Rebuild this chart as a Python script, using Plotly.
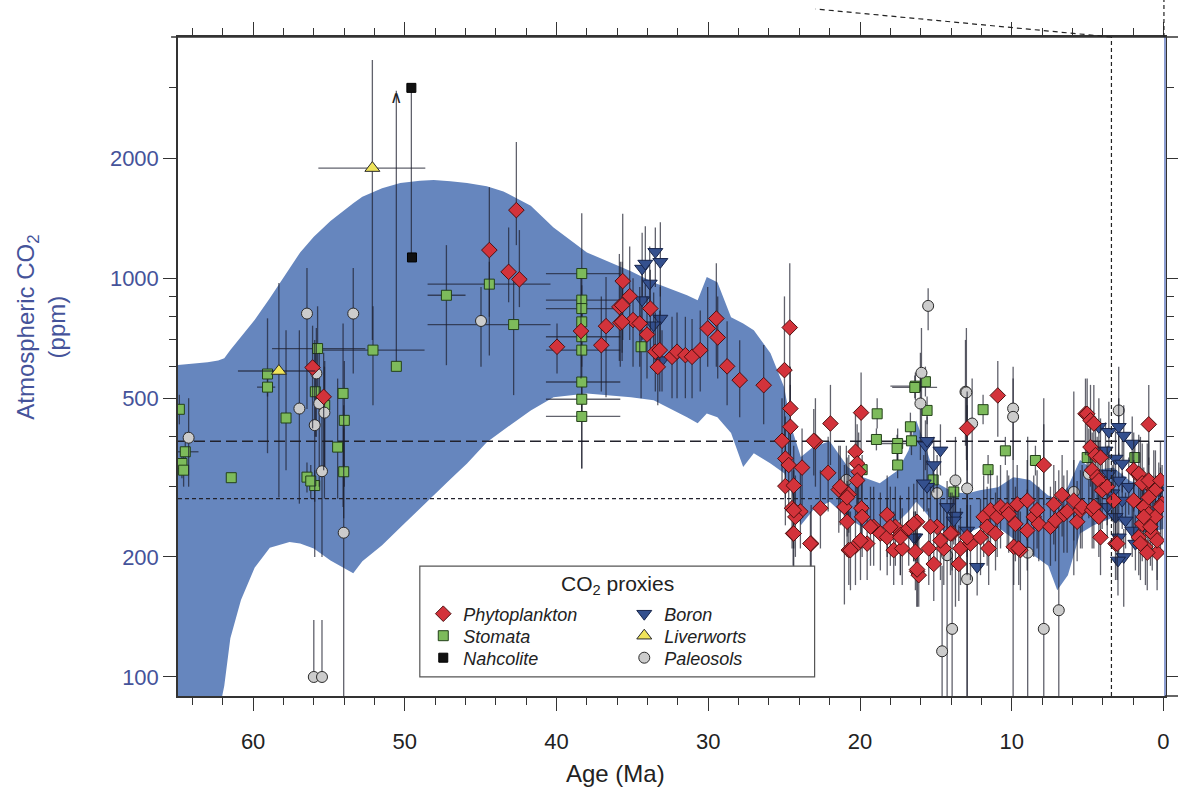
import math
import plotly.graph_objects as go

# ---------------- axis ranges / reference values ----------------
X_RANGE = [64.95, -0.1]          # Age (Ma), reversed
Y_RANGE_PPM = [89.6, 4024]       # log axis
MODERN_CO2 = 390
PREIND_CO2 = 280
ZOOM_AGE = 3.43                  # vertical dashed marker
X_TICKS = [60, 50, 40, 30, 20, 10, 0]
Y_TICKS = [100, 200, 500, 1000, 2000]
Y_MINOR = [300, 400, 600, 700, 800, 900, 3000]

# ---------------- envelope (blue band) ----------------
BAND_AGE = [65.0, 63.0, 62.3, 61.9, 61.5, 60.8, 59.9, 58.9, 57.6, 56.9, 56.0, 54.9,
            53.4, 52.8, 51.5, 50.3, 49.0, 48.1, 47.0, 45.9, 44.6, 43.5, 41.7, 40.2,
            38.0, 35.1, 33.6, 31.4, 30.7, 30.1, 29.4, 28.5, 27.7, 27.0, 25.9, 25.0,
            24.5, 23.9, 23.1, 22.0, 20.8, 19.8, 18.7, 17.5, 16.8, 16.3, 15.8, 14.9,
            13.8, 12.9, 12.1, 10.9, 9.9, 8.8, 7.6, 7.0, 6.3, 5.5, 4.6, 3.3, 2.2, 1.0, 0.0]
BAND_UPPER = [605, 615, 622, 630, 660, 710, 785, 890, 1060, 1160, 1270, 1390,
              1540, 1600, 1680, 1731, 1755, 1762, 1750, 1731, 1700, 1650, 1520, 1340,
              1160, 1040, 975, 906, 880, 1006, 977, 798, 770, 740, 648, 533,
              420, 356, 377, 390, 336, 317, 306, 330, 370, 440, 390, 306,
              290, 289, 294, 299, 317, 312, 285, 280, 300, 350, 330, 335, 310, 300, 300]
BAND_LOWER = [80, 80, 80, 95, 125, 156, 188, 211, 218, 216, 210, 196,
              182, 195, 214, 237, 265, 286, 313, 343, 388, 416, 466, 503,
              514, 503, 494, 448, 433, 458, 448, 409, 336, 364, 343, 324,
              290, 240, 262, 275, 250, 237, 233, 245, 260, 275, 262, 237,
              225, 230, 237, 237, 222, 205, 190, 165, 180, 229, 240, 251, 235, 230, 235]

# ---------------- proxies: (age, co2, co2_low, co2_high) ----------------
PHYTO = [
    (56.08, 597, 420, 760), (55.35, 504, 330, 650), (44.43, 1176, 640, 1690),
    (43.16, 1037, 870, 1340), (42.45, 993, 846, 1320), (42.65, 1481, 1210, 2195),
    (39.97, 673, 577, 770), (38.39, 737, 560, 1000), (36.74, 758, 503, 1006),
    (37.05, 679, 520, 900), (35.80, 773, 600, 1100), (35.86, 847, 620, 1150),
    (35.64, 983, 700, 1450), (35.18, 901, 700, 1200), (35.68, 855, 650, 1100),
    (34.96, 785, 600, 1000), (35.68, 777, 620, 950), (34.52, 770, 600, 950),
    (34.04, 722, 560, 900), (33.82, 839, 650, 1050), (33.49, 654, 520, 820),
    (33.20, 660, 520, 830), (33.33, 599, 480, 760), (32.39, 635, 500, 800),
    (32.06, 654, 500, 820), (31.51, 641, 500, 800), (31.07, 635, 500, 790),
    (30.53, 660, 520, 830), (29.47, 792, 600, 1090), (30.04, 748, 600, 950),
    (29.38, 710, 560, 900), (28.76, 601, 480, 780), (27.93, 555, 448, 699),
    (26.35, 539, 430, 680), (24.63, 752, 450, 1090), (24.98, 588, 400, 900),
    (24.59, 471, 350, 600), (24.59, 424, 330, 540), (25.14, 391, 300, 500),
    (24.92, 353, 280, 450), (24.70, 340, 270, 430), (23.82, 335, 270, 420),
    (24.92, 301, 240, 380), (24.37, 302, 240, 380), (24.48, 265, 210, 330),
    (23.93, 260, 210, 330), (24.26, 252, 200, 320), (24.41, 229, 190, 290),
    (23.22, 216, 180, 270), (22.94, 389, 300, 500), (22.61, 265, 210, 330),
    (21.95, 432, 340, 540), (22.10, 325, 260, 400), (23.05, 391, 320, 470),
    (23.27, 216, 180, 260), (19.93, 460, 370, 580), (20.30, 367, 290, 460),
    (20.19, 343, 270, 430), (20.09, 327, 260, 410), (20.19, 311, 250, 390),
    (21.40, 295, 230, 380), (20.74, 287, 230, 360), (21.03, 267, 152, 340),
    (20.85, 245, 200, 310), (19.91, 265, 210, 340), (19.86, 252, 200, 320),
    (20.74, 208, 170, 260), (20.30, 213, 170, 270), (19.53, 216, 175, 270),
    (19.10, 238, 190, 300), (18.66, 229, 185, 290), (18.21, 255, 200, 320),
    (18.21, 224, 180, 280), (17.67, 238, 190, 300), (17.78, 208, 170, 260),
    (17.22, 210, 170, 265), (17.34, 227, 180, 285), (16.79, 236, 190, 300),
    (16.24, 245, 195, 310), (16.35, 206, 165, 260), (16.24, 184, 150, 230),
    (16.13, 180, 150, 225), (15.47, 210, 170, 265), (15.14, 192, 155, 240),
    (14.92, 238, 190, 300), (14.48, 210, 170, 265), (13.93, 229, 185, 290),
    (13.49, 192, 155, 240), (13.38, 210, 170, 265), (12.72, 216, 175, 270),
    (12.94, 420, 330, 520), (10.92, 508, 400, 620), (15.36, 238, 190, 300),
    (14.70, 220, 175, 280), (14.04, 229, 180, 290), (12.94, 224, 180, 285),
    (12.06, 224, 180, 280), (11.85, 252, 200, 320), (11.62, 238, 190, 300),
    (11.40, 262, 210, 330), (10.96, 252, 200, 320), (10.74, 267, 210, 340),
    (10.30, 262, 210, 330), (9.64, 271, 215, 340), (8.98, 277, 220, 350),
    (9.87, 212, 170, 270), (9.43, 208, 165, 260), (10.20, 256, 205, 320),
    (9.76, 242, 195, 300), (11.07, 229, 185, 290), (11.52, 210, 170, 265),
    (9.54, 210, 170, 265), (8.55, 252, 200, 320), (8.33, 262, 210, 330),
    (8.22, 242, 195, 300), (8.98, 233, 185, 295), (7.89, 340, 270, 430),
    (7.45, 238, 190, 300), (7.23, 271, 215, 340), (7.12, 247, 195, 310),
    (6.68, 286, 225, 360), (6.57, 256, 205, 320), (6.35, 260, 205, 330),
    (5.91, 277, 220, 350), (5.69, 245, 195, 310), (5.47, 262, 210, 330),
    (5.36, 267, 210, 340), (5.14, 457, 360, 560), (5.03, 457, 360, 560),
    (4.81, 440, 350, 540), (4.59, 432, 340, 540), (4.81, 377, 300, 470),
    (4.48, 360, 290, 450), (4.15, 355, 280, 445), (4.70, 330, 260, 410),
    (4.37, 317, 250, 400), (4.26, 311, 250, 390), (4.04, 294, 235, 370),
    (3.71, 300, 240, 380), (3.28, 277, 220, 350), (4.70, 262, 210, 330),
    (4.59, 267, 210, 340), (4.26, 252, 200, 320), (4.15, 224, 180, 280),
    (3.16, 216, 175, 270), (3.05, 216, 175, 270), (1.96, 330, 260, 410),
    (1.52, 317, 250, 400), (1.07, 306, 245, 385), (0.64, 294, 235, 370),
    (1.63, 323, 255, 405), (1.40, 306, 245, 385), (0.97, 311, 250, 390),
    (0.53, 294, 235, 370), (1.30, 267, 210, 335), (0.97, 256, 205, 320),
    (0.53, 252, 200, 320), (1.40, 242, 195, 305), (0.74, 229, 185, 290),
    (1.19, 212, 170, 265), (0.42, 205, 165, 260), (1.63, 224, 180, 280),
    (0.20, 311, 250, 390), (0.09, 272, 215, 340), (0.97, 282, 225, 355),
    (1.30, 252, 200, 320), (0.86, 238, 190, 300), (0.42, 220, 175, 275),
    (1.52, 216, 175, 270), (1.07, 205, 165, 260), (1.96, 277, 220, 350),
    (0.20, 267, 210, 335), (0.97, 430, 340, 540), (24.37, 262, 210, 330),
    (24.37, 229, 185, 290), (21.30, 300, 240, 380), (20.85, 282, 225, 355),
    (20.63, 208, 165, 260), (19.97, 220, 175, 275), (19.31, 238, 190, 300),
    (18.00, 238, 190, 300), (17.34, 224, 180, 280), (16.46, 242, 195, 305),
    (16.24, 186, 150, 235),
]

# (age, co2, co2_low, co2_high, age_old, age_young)
STOMATA = [
    (64.86, 469, 430, 510, 64.86, 64.86), (64.47, 367, 330, 410, 65.00, 63.60),
    (64.69, 343, 315, 375, 64.69, 64.69), (64.58, 330, 300, 360, 64.58, 64.58),
    (61.44, 316, 316, 316, 61.44, 61.44), (59.05, 575, 364, 793, 59.05, 59.05),
    (59.05, 533, 505, 560, 59.74, 58.54), (57.83, 446, 330, 740, 57.83, 57.83),
    (55.75, 666, 480, 850, 58.75, 52.60), (55.90, 519, 400, 650, 55.90, 55.90),
    (55.28, 480, 330, 620, 55.28, 55.28), (54.07, 514, 267, 770, 54.07, 54.07),
    (53.99, 440, 300, 620, 53.99, 53.99), (54.43, 377, 280, 560, 54.43, 54.43),
    (54.03, 327, 250, 420, 54.03, 54.03), (56.45, 317, 290, 345, 56.45, 56.45),
    (55.94, 302, 275, 330, 55.94, 55.94), (56.20, 310, 280, 340, 56.20, 56.20),
    (52.10, 660, 480, 850, 55.70, 48.70), (50.56, 601, 601, 2950, 50.56, 50.56),
    (47.26, 906, 605, 1210, 48.50, 46.00), (44.43, 966, 800, 1100, 48.50, 40.40),
    (42.83, 765, 509, 990, 48.50, 40.40), (38.34, 1027, 880, 1455, 40.70, 35.80),
    (38.34, 881, 800, 960, 40.70, 35.80), (38.34, 839, 780, 900, 40.70, 35.80),
    (38.34, 777, 700, 860, 38.34, 38.34), (38.34, 713, 650, 780, 40.70, 35.80),
    (38.34, 660, 600, 720, 40.70, 35.80), (38.34, 549, 333, 640, 40.70, 35.80),
    (38.34, 497, 450, 540, 40.70, 35.80), (38.34, 450, 333, 497, 40.70, 35.80),
    (34.43, 673, 500, 900, 34.43, 34.43), (18.87, 457, 420, 500, 18.87, 18.87),
    (18.92, 394, 370, 420, 18.92, 18.92), (17.52, 385, 350, 420, 18.60, 16.50),
    (17.56, 374, 345, 405, 17.56, 17.56), (17.52, 340, 315, 365, 17.52, 17.52),
    (16.68, 424, 390, 460, 16.68, 16.68), (16.61, 391, 360, 425, 16.61, 16.61),
    (15.58, 466, 430, 505, 15.58, 15.58), (16.35, 536, 495, 580, 18.00, 15.60),
    (15.69, 550, 505, 600, 15.69, 15.69), (15.18, 312, 290, 335, 15.18, 15.18),
    (13.82, 291, 270, 315, 13.82, 13.82), (19.86, 331, 305, 360, 19.86, 19.86),
    (16.39, 532, 500, 570, 17.88, 14.92), (11.89, 468, 430, 510, 11.89, 11.89),
    (10.42, 369, 340, 400, 10.42, 10.42), (11.56, 331, 305, 360, 11.56, 11.56),
    (8.44, 349, 320, 380, 8.44, 8.44), (5.03, 355, 325, 390, 5.03, 5.03),
    (1.89, 355, 325, 390, 1.89, 1.89),
]

NAHCOLITE = [(49.57, 3000, 1127, 3000), (49.53, 1127, 1127, 1127)]

BORON = [
    (33.49, 1164, 950, 1340), (33.16, 1099, 900, 1380), (34.36, 1057, 850, 1300),
    (34.15, 1088, 880, 1350), (33.86, 970, 800, 1200), (34.36, 881, 700, 1100),
    (33.16, 792, 650, 950), (33.60, 762, 600, 920), (33.05, 623, 520, 740),
    (15.69, 381, 330, 440), (14.70, 370, 320, 430), (15.14, 340, 290, 400),
    (15.58, 300, 260, 350), (15.80, 306, 260, 360), (14.26, 267, 230, 310),
    (13.71, 254, 220, 295), (13.82, 247, 215, 285), (12.94, 233, 200, 270),
    (12.28, 189, 160, 220), (16.35, 224, 195, 260), (16.46, 224, 195, 260),
    (15.58, 391, 340, 450), (4.26, 424, 360, 500), (3.60, 412, 350, 490),
    (2.95, 424, 360, 500), (2.62, 403, 340, 480), (2.06, 385, 330, 450),
    (3.82, 370, 315, 435), (3.16, 353, 300, 415), (2.72, 343, 290, 405),
    (3.60, 323, 275, 380), (2.95, 311, 265, 365), (2.29, 300, 255, 355),
    (3.38, 289, 245, 340), (2.72, 277, 235, 325), (3.16, 252, 215, 295),
    (2.50, 247, 210, 290), (2.06, 233, 200, 275), (2.95, 224, 190, 265),
    (2.62, 200, 150, 235), (1.85, 216, 185, 255), (3.71, 267, 225, 315),
    (0.31, 294, 250, 345), (3.00, 196, 160, 230),
]

# (age, co2, co2_low, co2_high, age_old, age_young)
LIVERWORTS = [(58.30, 585, 282, 972, 61.00, 55.90), (52.14, 1888, 700, 3524, 55.70, 48.65)]

PALEOSOLS = [
    (56.45, 815, 470, 1060), (53.40, 815, 577, 1060), (56.95, 471, 272, 740),
    (64.25, 398, 300, 500), (55.83, 577, 400, 750), (55.64, 485, 300, 650),
    (55.30, 460, 280, 600), (55.94, 428, 200, 700), (55.46, 328, 200, 500),
    (54.03, 230, 85, 480), (56.00, 100, 100, 139), (55.46, 100, 100, 139),
    (44.98, 781, 600, 950), (20.90, 312, 250, 380), (16.02, 485, 350, 650),
    (13.05, 519, 380, 700), (14.92, 289, 230, 360), (13.71, 311, 150, 400),
    (12.94, 297, 85, 480), (14.26, 202, 85, 260), (12.94, 176, 85, 520),
    (13.93, 132, 85, 200), (14.59, 116, 85, 190), (12.61, 432, 300, 560),
    (9.91, 471, 350, 600), (9.91, 449, 85, 560), (4.92, 323, 250, 420),
    (5.91, 291, 180, 520), (8.95, 205, 85, 400), (7.89, 132, 85, 500),
    (6.90, 147, 85, 330), (2.95, 466, 350, 600), (15.51, 852, 740, 944),
    (15.95, 579, 400, 750), (12.99, 517, 350, 750),
]

ARROW_AGE, ARROW_CO2 = 50.56, 2850   # lower-bound arrow on one stomata estimate

# ---------------- styling ----------------
BAND_COLOR = "#6686be"
ERR_COLOR = "rgba(30,32,45,0.70)"
AXIS_COLOR = "#333333"
YLAB_COLOR = "#45539a"
FONT = "Liberation Sans, Arial, Helvetica, sans-serif"

fig = go.Figure()

fig.add_trace(go.Scatter(x=BAND_AGE, y=BAND_LOWER, mode="lines", line=dict(width=0, color=BAND_COLOR),
                         showlegend=False, hoverinfo="skip"))
fig.add_trace(go.Scatter(x=BAND_AGE, y=BAND_UPPER, mode="lines", line=dict(width=0, color=BAND_COLOR),
                         fill="tonexty", fillcolor=BAND_COLOR, showlegend=False, hoverinfo="skip"))

for val, dash in [(MODERN_CO2, "11px,5px"), (PREIND_CO2, "4px,3px")]:
    fig.add_trace(go.Scatter(x=[X_RANGE[0], X_RANGE[1]], y=[val, val], mode="lines",
                             line=dict(color="#22222c", width=1.3, dash=dash),
                             showlegend=False, hoverinfo="skip"))


def add_proxy(rows, name, symbol, fill, edge, size, legend, rank, xerr=False):
    cols = list(zip(*rows))
    age, co2, lo, hi = cols[0], cols[1], cols[2], cols[3]
    ey = dict(type="data", symmetric=False,
              array=[h - c for h, c in zip(hi, co2)],
              arrayminus=[c - l for c, l in zip(co2, lo)],
              color=ERR_COLOR, thickness=1.3, width=0)
    ex = None
    if xerr:
        old, young = cols[4], cols[5]
        ex = dict(type="data", symmetric=False,
                  array=[o - a for o, a in zip(old, age)],
                  arrayminus=[a - y for a, y in zip(age, young)],
                  color=ERR_COLOR, thickness=1.3, width=0)
    fig.add_trace(go.Scatter(x=list(age), y=list(co2), mode="markers", name=name,
                             marker=dict(symbol=symbol, size=size, color=fill,
                                         line=dict(color=edge, width=1)),
                             error_y=ey, error_x=ex, legend=legend, legendrank=rank))


# legend rows: legend = row 1, legend2 = row 2, legend3 = row 3
add_proxy(STOMATA, "Stomata", "square", "#7dbb5b", "#23401a", 10, "legend2", 1, xerr=True)
add_proxy(PALEOSOLS, "Paleosols", "circle", "#cccccc", "#2a2a2a", 11, "legend3", 2)
add_proxy(BORON, "Boron", "triangle-down", "#34508e", "#17244a", 13, "legend", 2)
add_proxy(PHYTO, "Phytoplankton", "diamond", "#d3333b", "#4e1010", 12, "legend", 1)
add_proxy(LIVERWORTS, "Liverworts", "triangle-up", "#efe35a", "#2a2a2a", 13, "legend2", 2, xerr=True)
add_proxy(NAHCOLITE, "Nahcolite", "square", "#111111", "#000000", 9, "legend3", 1)


# paper helpers
def px_x(age):
    return (X_RANGE[0] - age) / (X_RANGE[0] - X_RANGE[1])


shapes = [
    # right axis line (blue)
    dict(type="line", xref="paper", yref="paper", x0=1, x1=1, y0=0, y1=1,
         line=dict(color="#8c9dd0", width=2)),
    # top & bottom lines extending past the frame
    dict(type="line", xref="paper", yref="paper", x0=-0.007, x1=1.0135, y0=1, y1=1,
         line=dict(color=AXIS_COLOR, width=1.5)),
    dict(type="line", xref="paper", yref="paper", x0=1, x1=1.0135, y0=0, y1=0,
         line=dict(color=AXIS_COLOR, width=1.5)),
    # zoom marker lines
    dict(type="line", xref="paper", yref="paper", x0=px_x(ZOOM_AGE), x1=px_x(ZOOM_AGE), y0=0, y1=1,
         line=dict(color="#222", width=1.2, dash="4px,3px")),
    dict(type="line", xref="paper", yref="paper", x0=px_x(ZOOM_AGE), x1=px_x(22.94), y0=1, y1=1.0425,
         line=dict(color="#222", width=1.2, dash="5px,4px")),
    dict(type="line", xref="paper", yref="paper", x0=px_x(-0.03), x1=px_x(-0.03), y0=1, y1=1.056,
         line=dict(color="#222", width=1.2, dash="4px,3px")),
    # legend box
    dict(type="rect", xref="paper", yref="paper", x0=0.245, x1=0.645, y0=0.029, y1=0.197,
         fillcolor="white", line=dict(color="#555", width=1.2), layer="above"),
]

annotations = [
    dict(text="CO<sub>2</sub> proxies", xref="paper", yref="paper", x=0.445, y=0.168,
         showarrow=False, font=dict(size=21, color="#222", family=FONT), xanchor="center", yanchor="middle"),
    dict(text="Atmospheric CO<sub>2</sub><br>(ppm)", xref="paper", yref="paper", x=-0.139, y=0.56,
         textangle=-90, showarrow=False, font=dict(size=24, color=YLAB_COLOR, family=FONT),
         xanchor="center", yanchor="middle"),
    dict(text="Age (Ma)", xref="paper", yref="paper", x=0.443, y=-0.117, showarrow=False,
         font=dict(size=24, color="#222", family=FONT), xanchor="center", yanchor="middle"),
    dict(text="∧", x=ARROW_AGE, y=math.log10(ARROW_CO2), xref="x", yref="y", showarrow=False,
         font=dict(size=17, color="#222", family="DejaVu Sans"), yanchor="middle"),
]

ROW_CENTERS_PX = [614, 636, 658]   # legend row centres (pixels from top)
PLOT_TOP, PLOT_H = 37, 659


def legend_row(center_px):
    return dict(orientation="h", x=0.2485, y=(PLOT_TOP + PLOT_H - center_px) / PLOT_H,
                xanchor="left", yanchor="middle", bgcolor="rgba(0,0,0,0)", borderwidth=0,
                font=dict(size=18, color="#222", style="italic"),
                entrywidth=156, entrywidthmode="pixels", traceorder="normal")


fig.update_layout(
    width=1178, height=793,
    margin=dict(l=178, r=13, t=37, b=97, autoexpand=False),
    plot_bgcolor="white", paper_bgcolor="white",
    font=dict(family=FONT, color="#222"),
    shapes=shapes, annotations=annotations,
    showlegend=True,
    legend=legend_row(ROW_CENTERS_PX[0]),
    legend2=legend_row(ROW_CENTERS_PX[1]),
    legend3=legend_row(ROW_CENTERS_PX[2]),
)

fig.update_xaxes(
    range=X_RANGE, tickmode="array", tickvals=X_TICKS, ticktext=[str(v) for v in X_TICKS],
    ticks="outside", ticklen=13, tickwidth=1.3, tickcolor=AXIS_COLOR,
    showline=True, linecolor=AXIS_COLOR, linewidth=1.5, mirror="ticks",
    showgrid=False, zeroline=False, ticklabelstandoff=12,
    minor=dict(tick0=0, dtick=2, ticks="outside", ticklen=7, tickwidth=1.1, tickcolor=AXIS_COLOR),
    tickfont=dict(size=22, color="#222"),
)
fig.update_yaxes(
    type="log", range=[math.log10(Y_RANGE_PPM[0]), math.log10(Y_RANGE_PPM[1])],
    tickmode="array", tickvals=Y_TICKS, ticktext=[str(v) for v in Y_TICKS],
    ticks="outside", ticklen=13, tickwidth=1.3, tickcolor=AXIS_COLOR,
    showline=True, linecolor=AXIS_COLOR, linewidth=1.5, mirror="ticks",
    showgrid=False, zeroline=False,
    minor=dict(tickmode="array", tickvals=Y_MINOR, ticks="outside", ticklen=7, tickwidth=1.1,
               tickcolor=AXIS_COLOR),
    tickfont=dict(size=22, color=YLAB_COLOR),
)

fig.write_html("out.html")
